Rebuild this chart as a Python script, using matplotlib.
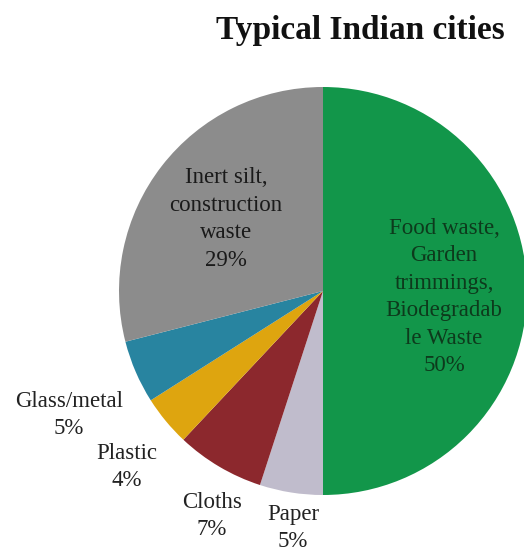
import matplotlib.pyplot as plt
import numpy as np

# data (clockwise from 12 o'clock)
categories = ["Food waste,\nGarden\ntrimmings,\nBiodegradab\nle Waste",
              "Paper", "Cloths", "Plastic", "Glass/metal",
              "Inert silt,\nconstruction\nwaste"]
shares = [50, 5, 7, 4, 5, 29]
colors = ["#12964A", "#C0BCCC", "#8C282D", "#DEA50F", "#2884A0", "#8C8C8C"]
# label placement: distance (fraction of radius) and angle nudge (deg)
label_dist = [0.594, 1.172, 1.230, 1.291, 1.386, 0.592]
label_nudge = [-2.8, 1.8, 4.3, 2.3, 2.6, 1.2]
label_colors = ["#0d3a1c", "#222222", "#222222", "#222222", "#222222", "#1a1a1a"]

plt.rcParams["font.family"] = ["Liberation Serif", "DejaVu Serif"]

fig = plt.figure(figsize=(5.24, 5.56), dpi=100)
ax = fig.add_axes([0, 0, 1, 1])

cx, cy, r = 323, 556 - 291, 204
wedges, _ = ax.pie(shares, colors=colors, startangle=90, counterclock=False,
                   center=(cx, cy), radius=r, frame=True)
ax.set_xlim(0, 524)
ax.set_ylim(0, 556)
ax.set_aspect("equal")
ax.axis("off")

for w, name, pct, d, nd, tc in zip(wedges, categories, shares, label_dist,
                                   label_nudge, label_colors):
    ang = np.deg2rad((w.theta1 + w.theta2) / 2 + nd)
    x = cx + d * r * np.cos(ang)
    y = cy + d * r * np.sin(ang)
    ax.text(x, y, f"{name}\n{pct}%", ha="center", va="center",
            fontsize=16.5, color=tc, linespacing=1.41)

fig.text(0.687, 0.945, "Typical Indian cities", ha="center", va="center",
         fontsize=24, fontweight="bold", color="#111111")

fig.savefig("out.png", dpi=100)
